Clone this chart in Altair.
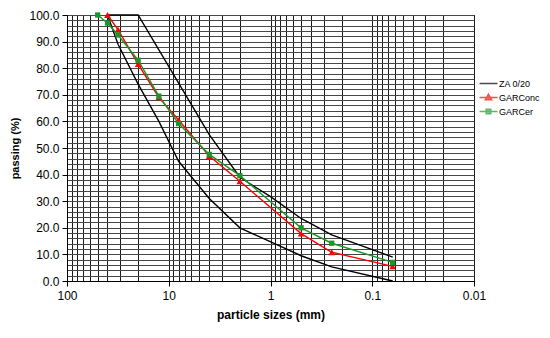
import altair as alt
import pandas as pd

# ---- data ----
sizes_za_upper = [40, 31.5, 20, 4, 2, 1, 0.5, 0.25, 0.063]
pass_za_upper = [100, 100, 100, 55, 39, 31.7, 23.5, 17.3, 9]
sizes_za_lower = [40, 31.5, 20, 12.5, 8, 4, 2, 0.5, 0.25, 0.063]
pass_za_lower = [100, 89, 74, 60, 45, 31, 20, 9.5, 5.3, 0]
sizes_garcon = [40, 31.5, 20, 12.5, 8, 4, 2, 0.5, 0.25, 0.063]
pass_garcon = [100, 94.5, 81.5, 69, 60.5, 47, 37.5, 17.8, 10.8, 5.5]
sizes_garcer = [50, 40, 31.5, 20, 12.5, 8, 4, 2, 0.5, 0.25, 0.063]
pass_garcer = [100, 97, 92.5, 83, 69.5, 59.2, 47.6, 39.6, 20, 14.2, 7]

series_names = ["ZA 0/20", "GARConc", "GARCer"]
series_colors = ["#000000", "#ff0000", "#1a962a"]
legend_paths = [
    "M-1.2,0L1.2,0",
    "M-1.2,0L1.2,0M0,-0.42L0.42,0.3L-0.42,0.3Z",
    "M-1.2,0L1.2,0M-0.3,-0.3L0.3,-0.3L0.3,0.3L-0.3,0.3Z",
]

x_grid = [0.01, 0.02, 0.03, 0.04, 0.05, 0.06, 0.07, 0.08, 0.09,
          0.1, 0.2, 0.3, 0.4, 0.5, 0.6, 0.7, 0.8, 0.9,
          1, 2, 3, 4, 5, 6, 7, 8, 9,
          10, 20, 30, 40, 50, 60, 70, 80, 90, 100]
x_labels = [100, 10, 1, 0.1, 0.01]
y_grid = list(range(0, 101, 2))

rows = []
for s, p in zip(sizes_za_upper, pass_za_upper):
    rows.append({"series": "ZA 0/20", "curve": "upper", "size": s, "pass": p})
for s, p in zip(sizes_za_lower, pass_za_lower):
    rows.append({"series": "ZA 0/20", "curve": "lower", "size": s, "pass": p})
for s, p in zip(sizes_garcon, pass_garcon):
    rows.append({"series": "GARConc", "curve": "GARConc", "size": s, "pass": p})
for s, p in zip(sizes_garcer, pass_garcer):
    rows.append({"series": "GARCer", "curve": "GARCer", "size": s, "pass": p})
df = pd.DataFrame(rows)

FONT = "Liberation Sans"
major_test = "indexof([" + ",".join(str(v) for v in x_labels) + "], datum.value) >= 0"

x_enc = alt.X(
    "size:Q",
    scale=alt.Scale(type="log", domain=[0.01, 100], reverse=True, nice=False),
    axis=alt.Axis(
        values=x_grid,
        labelExpr=major_test + " ? format(datum.value, '~g') : ''",
        title="particle sizes (mm)",
        grid=True, gridColor="#1a1a1a", gridWidth=1,
        tickSize=5, tickColor="#000",
        tickOpacity={"condition": {"test": major_test, "value": 1}, "value": 0},
        domainColor="#000",
        labelFont=FONT, labelFontSize=12, labelColor="#000", labelPadding=4,
        labelFlush=False, labelOverlap=False,
        titleFont=FONT, titleFontSize=12, titleFontWeight="bold", titleColor="#000",
        titlePadding=8,
    ),
)
y_enc = alt.Y(
    "pass:Q",
    scale=alt.Scale(domain=[0, 100], nice=False),
    axis=alt.Axis(
        values=y_grid,
        labelExpr="datum.value % 10 === 0 ? format(datum.value, '.1f') : ''",
        title="passing (%)",
        grid=True, gridColor="#474747", gridWidth=1,
        tickSize=5, tickColor="#000",
        tickOpacity={"condition": {"test": "datum.value % 10 === 0", "value": 1}, "value": 0},
        domainColor="#000",
        labelFont=FONT, labelFontSize=12, labelColor="#000", labelPadding=3,
        labelFlush=False, labelOverlap=False,
        titleFont=FONT, titleFontSize=11, titleFontWeight="bold", titleColor="#000",
        titlePadding=8,
    ),
)

base = alt.Chart(df)
layers = []
for name, col in zip(series_names, series_colors):
    layers.append(
        base.transform_filter(alt.datum.series == name)
        .mark_line(strokeWidth=1.4, color=col)
        .encode(x=x_enc, y=y_enc, detail="curve:N")
    )
layers.append(
    base.transform_filter(alt.datum.series == series_names[1])
    .mark_point(filled=True, shape="triangle-up", size=45, opacity=1, color=series_colors[1])
    .encode(x=x_enc, y=y_enc)
)
layers.append(
    base.transform_filter(alt.datum.series == series_names[2])
    .mark_point(filled=True, shape="square", size=28, opacity=1, color=series_colors[2])
    .encode(x=x_enc, y=y_enc)
)

legend_def = alt.Legend(
    title=None, orient="none", legendX=413, legendY=60,
    symbolSize=225, symbolStrokeWidth=1.5,
    labelFont=FONT, labelFontSize=9, labelColor="#000", labelOffset=2,
    rowPadding=0, padding=0, labelLimit=200,
)
# legend-only layer: no rows pass the filter, entries come from the explicit scale domains
leg = base.transform_filter(alt.datum.size < 0).mark_point(filled=True, strokeWidth=1.5).encode(
    x=x_enc, y=y_enc,
    fill=alt.Fill("series:N", scale=alt.Scale(domain=series_names, range=series_colors),
                  legend=legend_def),
    stroke=alt.Stroke("series:N", scale=alt.Scale(domain=series_names, range=series_colors),
                      legend=legend_def),
    shape=alt.Shape("series:N", scale=alt.Scale(domain=series_names, range=legend_paths),
                    legend=legend_def),
)
layers.append(leg)

chart = (
    alt.layer(*layers)
    .properties(
        width=407, height=266,
        autosize=alt.AutoSizeParams(type="none"),
        padding={"left": 59, "top": 7, "right": 68, "bottom": 49},
        background="white",
    )
    .configure_view(stroke="#1a1a1a", strokeWidth=1)
)

chart.save("out.html", embed_options={"renderer": "svg", "actions": False})
